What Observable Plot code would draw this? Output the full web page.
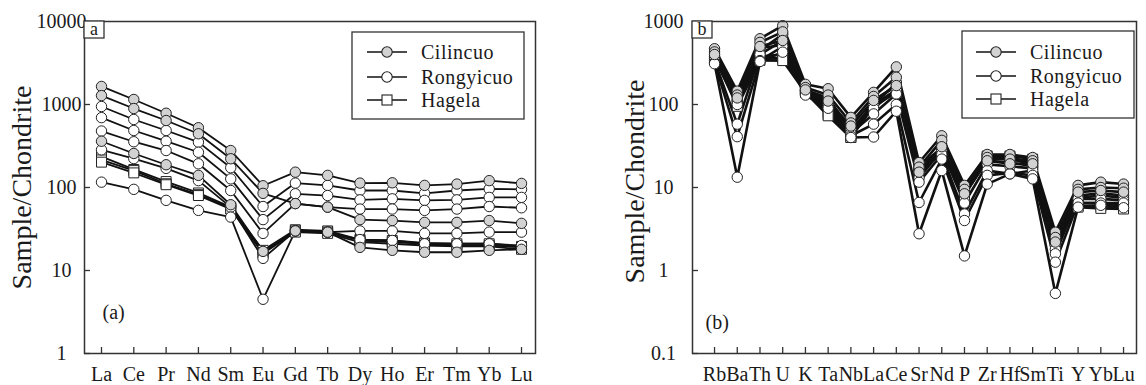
<!DOCTYPE html>
<html><head><meta charset="utf-8">
<script src="https://cdn.jsdelivr.net/npm/d3@7"></script>
<script src="https://cdn.jsdelivr.net/npm/@observablehq/plot@0.6"></script>
<style>
body{margin:0;background:#fff;}
#wrap{position:relative;width:1146px;height:385px;display:flex;}
</style></head><body><div id="wrap"></div>
<script>
const SERIF = "'Liberation Serif', 'Times New Roman', serif";
// ---------- Panel (a): chondrite-normalised REE ----------
const reeElements = ["La","Ce","Pr","Nd","Sm","Eu","Gd","Tb","Dy","Ho","Er","Tm","Yb","Lu"];
const reeCilincuo = [
  [1650, 1150, 785, 525, 279, 105, 153, 140, 113, 114, 106, 110, 121, 112],
  [1280, 894, 641, 444, 222, 85, 64, 58, 41, 40, 38, 38, 40, 37],
  [361, 257, 188, 140, 62, 17, 30, 29, 19, 17.5, 16.6, 16.6, 17.5, 18]
];
const reeRongyicuo = [
  [946, 660, 486, 352, 173, 59, 113, 106, 92, 92, 85, 92, 96, 95],
  [695, 486, 361, 266, 127, 41, 84, 80, 71, 73, 70, 71, 76, 76],
  [479, 356, 279, 193, 92, 28, 64, 58, 55, 55, 53, 55, 59, 57],
  [284, 223, 170, 121, 58, 14, 30, 29, 30, 30, 28, 28, 29, 29],
  [116, 95, 70, 53, 44, 4.5, 30, 29, 23.6, 23, 21, 21, 21, 20]
];
const reeHagela = [
  [236, 165, 118, 86, 58, 17.5, 31, 30, 23.6, 23, 21.5, 21, 21, 19.5],
  [215, 160, 111, 82, 56, 16.5, 30, 29, 23, 22, 21, 20, 20, 19],
  [202, 150, 108, 80, 55, 16, 29, 28, 22, 21, 20, 19.5, 19.5, 18]
];
const reeTicks = [1, 10, 100, 1000, 10000];

// ---------- Panel (b): spider diagram ----------
const spiderElements = ["Rb","Ba","Th","U","K","Ta","Nb","La","Ce","Sr","Nd","P","Zr","Hf","Sm","Ti","Y","Yb","Lu"];
const spCilincuo = [
  [470, 145, 620, 890, 175, 155, 70, 140, 284, 20, 42, 10.6, 25, 25, 23, 2.9, 10.6, 11.6, 11],
  [430, 130, 560, 750, 160, 130, 60, 125, 213, 17.6, 37, 9.5, 23, 22, 21, 2.5, 9.5, 10, 9.8],
  [400, 120, 500, 590, 150, 110, 55, 112, 169, 15.3, 31, 8.4, 21, 19.3, 19.3, 2.2, 8.8, 9.2, 8.8]
];
const spRongyicuo = [
  [380, 112, 446, 700, 150, 120, 50, 100, 180, 16, 30, 8.4, 21, 20, 18, 2.0, 8, 8.5, 8],
  [360, 100, 480, 520, 145, 105, 50, 90, 150, 13, 28, 6.5, 19, 18, 17, 1.8, 7.5, 8, 7.5],
  [340, 58, 400, 590, 140, 100, 45, 77, 134, 11.6, 25, 4.8, 16, 14.6, 16, 1.59, 7.3, 7.3, 7],
  [320, 41, 338, 500, 135, 95, 42, 58, 100, 6.6, 22, 4.0, 14, 15, 14, 1.26, 6.5, 6.5, 6.5],
  [310, 13.3, 330, 427, 130, 90, 40, 40.6, 83, 2.77, 16, 1.5, 11, 14.6, 12.7, 0.53, 5.8, 6.1, 5.7]
];
const spHagela = [
  [420, 110, 380, 400, 160, 80, 42, 110, 170, 18, 30, 9, 24, 24, 22, 2.4, 6.5, 6.5, 6],
  [400, 100, 360, 360, 150, 75, 40, 100, 150, 16, 28, 8.5, 23, 23, 20, 2.3, 6, 6, 5.7],
  [380, 95, 340, 338, 140, 73, 40, 95, 140, 15, 26, 8, 22, 22, 19, 2.2, 5.8, 5.6, 5.5]
];
const spTicks = [0.1, 1, 10, 100, 1000];

const groupNames = ["Cilincuo", "Rongyicuo", "Hagela"];
const groupFill = {Cilincuo: "#d2d2d2", Rongyicuo: "#ffffff", Hagela: "#ffffff"};
const groupSymbol = {Cilincuo: "circle", Rongyicuo: "circle", Hagela: "square"};

function tidy(groups) {
  const rows = [];
  groups.forEach(([name, samples]) => {
    samples.forEach((vals, s) => {
      vals.forEach((v, i) => rows.push({group: name, id: name + s, i, v}));
    });
  });
  return rows;
}

function panel(cfg) {
  const rows = tidy(cfg.groups);
  const n = cfg.labels.length;
  const svg = Plot.plot({
    width: 573, height: 385,
    marginLeft: cfg.ml, marginRight: cfg.mr, marginTop: 21, marginBottom: 32,
    style: {fontFamily: SERIF, fontSize: "20px", background: "#fff", color: "#1a1a1a"},
    x: {type: "linear", domain: cfg.xDomain},
    y: {type: "log", domain: cfg.yDomain},
    marks: [
      Plot.line(rows, {x: "i", y: "v", z: "id", stroke: "#111", strokeWidth: cfg.lw}),
      Plot.dot(rows.filter(d => d.group === "Hagela"), {x: "i", y: "v", symbol: "square", r: 5.6, fill: "#fff", stroke: "#222", strokeWidth: 1}),
      Plot.dot(rows.filter(d => d.group === "Rongyicuo"), {x: "i", y: "v", r: 5.2, fill: "#fff", stroke: "#222", strokeWidth: 1}),
      Plot.dot(rows.filter(d => d.group === "Cilincuo"), {x: "i", y: "v", r: 5.2, fill: "#d2d2d2", stroke: "#222", strokeWidth: 1}),
      Plot.frame({stroke: "#333", strokeWidth: 1.5}),
      Plot.axisX({ticks: d3.range(n), tickFormat: i => cfg.labels[i], tickSize: -6, tickPadding: 19, stroke: "#333", strokeWidth: 1.3, fontSize: 20, label: null}),
      Plot.axisY({ticks: cfg.yTicks, tickFormat: d => String(d), tickSize: -6, tickPadding: cfg.yPad, textAnchor: "middle", stroke: "#333", strokeWidth: 1.3, fontSize: 20, label: null}),
      Plot.text([cfg.yLabel], {text: d => d, frameAnchor: "left", textAnchor: "middle", rotate: -90, dx: cfg.yLabelDx, dy: cfg.yLabelDy, fontSize: 28}),
      Plot.text([cfg.tag], {text: d => d, frameAnchor: "bottom-left", textAnchor: "start", dx: cfg.tagDx, dy: cfg.tagDy, fontSize: 20})
    ]
  });
  const g = d3.select(svg).append("g").attr("text-anchor", "start");
  // corner letter box
  g.append("rect").attr("x", cfg.ml).attr("y", 21).attr("width", 20).attr("height", 17)
    .attr("fill", "#fff").attr("stroke", "#333").attr("stroke-width", 1.3);
  g.append("text").attr("x", cfg.ml + 10).attr("y", 35).attr("text-anchor", "middle")
    .attr("font-size", 18).attr("fill", "#1a1a1a").text(cfg.letter);
  // legend
  const L = cfg.legend;
  g.append("rect").attr("x", L.x).attr("y", L.y).attr("width", L.w).attr("height", L.h)
    .attr("fill", "#fff").attr("stroke", "#333").attr("stroke-width", 1.3);
  groupNames.forEach((name, k) => {
    const yy = L.items[k];
    g.append("line").attr("x1", L.lx).attr("x2", L.lx + 40).attr("y1", yy).attr("y2", yy)
      .attr("stroke", "#111").attr("stroke-width", 1.5);
    if (groupSymbol[name] === "square") {
      g.append("rect").attr("x", L.lx + 15).attr("y", yy - 5).attr("width", 10).attr("height", 10)
        .attr("fill", "#fff").attr("stroke", "#222").attr("stroke-width", 1.1);
    } else {
      g.append("circle").attr("cx", L.lx + 20).attr("cy", yy).attr("r", 5.2)
        .attr("fill", groupFill[name]).attr("stroke", "#222").attr("stroke-width", 1.1);
    }
    g.append("text").attr("x", L.tx).attr("y", yy).attr("dy", "0.35em").attr("text-anchor", "start")
      .attr("font-size", 20).attr("fill", "#1a1a1a").attr("letter-spacing", "0.5px").text(name);
  });
  d3.select(svg).selectAll("text").style("font-family", SERIF);
  return svg;
}

const wrap = document.getElementById("wrap");
wrap.appendChild(panel({
  groups: [["Hagela", reeHagela], ["Rongyicuo", reeRongyicuo], ["Cilincuo", reeCilincuo]],
  labels: reeElements, ml: 84, mr: 38, xDomain: [-0.526, 13.433], yDomain: [1, 10000], yTicks: reeTicks, lw: 1.8,
  yPad: 29, yLabel: "Sample/Chondrite", yLabelDx: -62, yLabelDy: 0, tag: "(a)", tagDx: 18, tagDy: -35, letter: "a",
  legend: {x: 352, y: 32, w: 172, h: 87, items: [52, 77, 100], lx: 367, tx: 421}
}));
wrap.appendChild(panel({
  groups: [["Hagela", spHagela], ["Rongyicuo", spRongyicuo], ["Cilincuo", spCilincuo]],
  labels: spiderElements, ml: 119, mr: 10, xDomain: [-0.97, 18.57], yDomain: [0.1, 1000], yTicks: spTicks, lw: 2.6,
  yPad: 35, yLabel: "Sample/Chondrite", yLabelDx: -57, yLabelDy: -6, tag: "(b)", tagDx: 13, tagDy: -25, letter: "b",
  legend: {x: 389, y: 31, w: 172, h: 87, items: [52, 76, 99], lx: 403, tx: 457}
}));
</script></body></html>
